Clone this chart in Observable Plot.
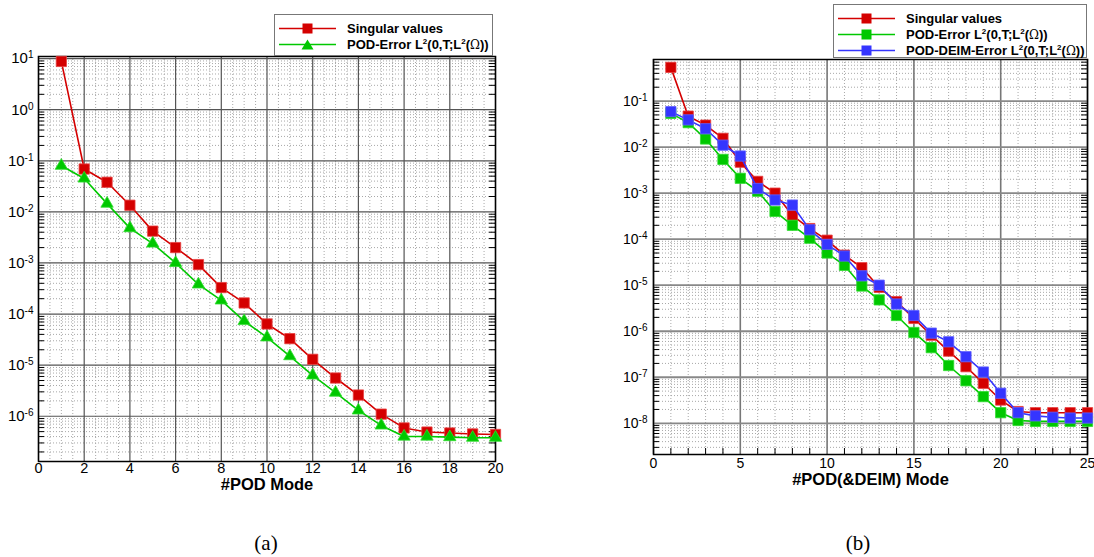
<!DOCTYPE html>
<html>
<head>
<meta charset="utf-8">
<script src="https://cdn.jsdelivr.net/npm/d3@7"></script>
<script src="https://cdn.jsdelivr.net/npm/@observablehq/plot@0.6"></script>
<style>
  body { margin: 0; background: #fff; }
  #wrap { position: relative; width: 1094px; height: 557px; overflow: hidden; font-family: "Liberation Sans", Arial, sans-serif; }
  .panel { position: absolute; top: 0; }
  .legend { position: absolute; background: #fff; border: 1px solid #777; box-sizing: border-box; font-weight: bold; font-size: 13px; color: #000; padding-top: 6px; }
  .legend .row { display: flex; align-items: center; height: 15.7px; white-space: nowrap; }
  .legend svg { display: block; margin-left: 4px; margin-right: 11px; }
  .legend sup { font-size: 8px; vertical-align: 5px; line-height: 0; }
  .legend .om { font-weight: normal; font-family: "DejaVu Serif", serif; font-size: 12px; }
  .cap { position: absolute; font-family: "Liberation Serif", "DejaVu Serif", serif; font-size: 21px; transform: translate(-50%, -50%); }
</style>
</head>
<body>
<div id="wrap"></div>
<script>
// ---------- data (a) ----------
const modesA = [1,2,3,4,5,6,7,8,9,10,11,12,13,14,15,16,17,18,19,20];
const singularA = [8.8, 0.069, 0.038, 0.0135, 0.0042, 0.002, 0.00093, 3.3e-4, 1.65e-4, 6.4e-5, 3.3e-5, 1.3e-5, 5.6e-6, 2.6e-6, 1.1e-6, 5.9e-7, 4.9e-7, 4.7e-7, 4.5e-7, 4.4e-7];
const podErrA = [0.08, 0.045, 0.0145, 0.0048, 0.0024, 0.001, 3.8e-4, 1.85e-4, 7.3e-5, 3.5e-5, 1.5e-5, 6.3e-6, 2.9e-6, 1.3e-6, 6.6e-7, 4.0e-7, 4.0e-7, 3.9e-7, 3.8e-7, 3.8e-7];
const xTicksA = [0,2,4,6,8,10,12,14,16,18,20];
const yTicksA = [1e1,1e0,1e-1,1e-2,1e-3,1e-4,1e-5,1e-6];

// ---------- data (b) ----------
const modesB = [1,2,3,4,5,6,7,8,9,10,11,12,13,14,15,16,17,18,19,20,21,22,23,24,25];
const singularB = [0.54, 0.047, 0.030, 0.0155, 0.0047, 0.0018, 0.001, 3.3e-4, 1.7e-4, 9.5e-5, 4.5e-5, 2.4e-5, 9e-6, 4.4e-6, 1.9e-6, 8.2e-7, 3.7e-7, 1.7e-7, 7.4e-8, 3.2e-8, 1.8e-8, 1.7e-8, 1.7e-8, 1.7e-8, 1.7e-8];
const podErrB = [0.054, 0.034, 0.015, 0.0054, 0.0021, 0.0011, 4.0e-4, 2.0e-4, 1.05e-4, 5.0e-5, 2.7e-5, 9.6e-6, 4.8e-6, 2.2e-6, 9.4e-7, 4.4e-7, 1.8e-7, 8.4e-8, 3.8e-8, 1.7e-8, 1.15e-8, 1.1e-8, 1.1e-8, 1.1e-8, 1.1e-8];
const deimErrB = [0.059, 0.039, 0.025, 0.011, 0.0064, 0.00126, 7.1e-4, 5.5e-4, 1.6e-4, 7.7e-5, 4.3e-5, 1.6e-5, 1.0e-5, 3.9e-6, 2.2e-6, 9.1e-7, 5.9e-7, 2.8e-7, 1.3e-7, 4.5e-8, 1.7e-8, 1.45e-8, 1.35e-8, 1.3e-8, 1.3e-8];
const xTicksB = [0,5,10,15,20,25];
const yTicksB = [1e-1,1e-2,1e-3,1e-4,1e-5,1e-6,1e-7,1e-8];

const labelA = "#POD Mode";
const labelB = "#POD(&DEIM) Mode";
const captions = ["(a)", "(b)"];

const RED = "#d40000", GREEN = "#00c800", BLUE = "#3535ff";

function minorLog(lo, hi) {
  const out = [];
  for (let e = Math.floor(Math.log10(lo)); e <= Math.ceil(Math.log10(hi)); e++)
    for (let m = 2; m <= 9; m++) { const v = m * Math.pow(10, e); if (v > lo && v < hi) out.push(v); }
  return out;
}
function minorLin(lo, hi, step) {
  const out = []; for (let v = lo + step; v < hi - 1e-9; v += step) out.push(+v.toFixed(4)); return out;
}
const expFmt = d => "10^" + Math.round(Math.log10(d));

function supTicks(svg) {
  svg.querySelectorAll('g[aria-label="y-axis tick label"] text').forEach(t => {
    const s = t.textContent; const parts = s.split("^");
    if (parts.length < 2) return;
    t.textContent = parts[0];
    const ts = document.createElementNS("http://www.w3.org/2000/svg", "tspan");
    ts.setAttribute("dy", "-0.5em"); ts.setAttribute("font-size", "10"); ts.textContent = parts[1];
    t.appendChild(ts);
  });
}

const wrap = document.getElementById("wrap");

// ---------- panel (a) ----------
{
  const W = 520, H = 500, mL = 38, mR = 25, mT = 56, mB = 39;
  const fw = W - mL - mR;
  const yDom = [1.3e-7, 11];
  const data = modesA.map((m, i) => ({m, sv: singularA[i], pod: podErrA[i]}));
  const minY = minorLog(yDom[0], yDom[1]);
  const minX = minorLin(0, 20, 0.5).filter(v => v % 2 !== 0);
  const svg = Plot.plot({
    width: W, height: H, marginLeft: mL, marginRight: mR, marginTop: mT, marginBottom: mB,
    x: {domain: [0, 20], label: null},
    y: {type: "log", domain: yDom, label: null},
    style: {fontFamily: "'Liberation Sans', Arial, sans-serif", fontSize: "14px", color: "#000", background: "transparent"},
    marks: [
      Plot.ruleX(minX, {stroke: "#a8a8a8", strokeDasharray: "1,2"}),
      Plot.ruleY(minY, {stroke: "#a8a8a8", strokeDasharray: "1,2"}),
      Plot.ruleX(xTicksA, {stroke: "#555", strokeWidth: 1.2}),
      Plot.ruleY(yTicksA, {stroke: "#555", strokeWidth: 1.2}),
      Plot.tickY(minY, {insetRight: fw - 6, stroke: "#000"}),
      Plot.tickY(minY, {insetLeft: fw - 6, stroke: "#000"}),
      Plot.axisX({ticks: xTicksA, tickSize: 0, tickPadding: 1, fontSize: 14.5, label: null, tickFormat: d => String(d)}),
      Plot.axisY({ticks: yTicksA, tickSize: 0, tickPadding: 5, fontSize: 15, label: null, tickFormat: expFmt}),
      Plot.frame({stroke: "#000", strokeWidth: 1.5}),
      Plot.line(data, {x: "m", y: "sv", stroke: RED, strokeWidth: 1.6}),
      Plot.dot(data, {x: "m", y: "sv", symbol: "square", r: 5.8, fill: RED, stroke: "#e84040", strokeWidth: 0.8}),
      Plot.line(data, {x: "m", y: "pod", stroke: GREEN, strokeWidth: 1.6}),
      Plot.dot(data, {x: "m", y: "pod", symbol: "triangle", r: 4.6, fill: GREEN, stroke: "#30dd30", strokeWidth: 0.8}),
      Plot.text([labelA], {text: d => d, frameAnchor: "bottom", dy: 28, fontWeight: "bold", fontSize: 16.5})
    ]
  });
  svg.classList.add("panel"); svg.style.left = "0px";
  supTicks(svg);
  wrap.appendChild(svg);
}

// ---------- panel (b) ----------
{
  const W = 534, H = 500, mL = 93, mR = 7, mT = 59, mB = 46;
  const fw = W - mL - mR, fh = H - mT - mB;
  const yDom = [2.1e-9, 0.8];
  const data = modesB.map((m, i) => ({m, sv: singularB[i], pod: podErrB[i], deim: deimErrB[i]}));
  const minY = minorLog(yDom[0], yDom[1]);
  const minX = minorLin(0, 25, 1).filter(v => v % 5 !== 0);
  const svg = Plot.plot({
    width: W, height: H, marginLeft: mL, marginRight: mR, marginTop: mT, marginBottom: mB,
    x: {domain: [0, 25], label: null},
    y: {type: "log", domain: yDom, label: null},
    style: {fontFamily: "'Liberation Sans', Arial, sans-serif", fontSize: "14px", color: "#000", background: "transparent"},
    marks: [
      Plot.ruleX(minX, {stroke: "#a8a8a8", strokeDasharray: "1,2"}),
      Plot.ruleY(minY, {stroke: "#a8a8a8", strokeDasharray: "1,2"}),
      Plot.ruleX(xTicksB, {stroke: "#777", strokeWidth: 1.6}),
      Plot.ruleY(yTicksB, {stroke: "#888", strokeWidth: 1.8}),
      Plot.tickY(minY, {insetRight: fw - 6, stroke: "#000"}),
      Plot.tickY(minY, {insetLeft: fw - 6, stroke: "#000"}),
      Plot.tickX(minX, {insetTop: fh - 6, stroke: "#000"}),
      Plot.axisX({ticks: xTicksB, tickSize: 0, tickPadding: 4, fontSize: 14, label: null, tickFormat: d => String(d)}),
      Plot.axisY({ticks: yTicksB, tickSize: 0, tickPadding: 6, fontSize: 14, label: null, tickFormat: expFmt}),
      Plot.frame({stroke: "#000", strokeWidth: 1.5}),
      Plot.line(data, {x: "m", y: "sv", stroke: RED, strokeWidth: 1.6}),
      Plot.dot(data, {x: "m", y: "sv", symbol: "square", r: 5.8, fill: RED, stroke: "#e84040", strokeWidth: 0.8}),
      Plot.line(data, {x: "m", y: "pod", stroke: GREEN, strokeWidth: 1.6}),
      Plot.dot(data, {x: "m", y: "pod", symbol: "square", r: 5.8, fill: GREEN, stroke: "#30dd30", strokeWidth: 0.8}),
      Plot.line(data, {x: "m", y: "deim", stroke: BLUE, strokeWidth: 1.6}),
      Plot.dot(data, {x: "m", y: "deim", symbol: "square", r: 5.8, fill: BLUE, stroke: "#6060ff", strokeWidth: 0.8}),
      Plot.text([labelB], {text: d => d, frameAnchor: "bottom", dy: 30, fontWeight: "bold", fontSize: 16.5})
    ]
  });
  svg.classList.add("panel"); svg.style.left = "560px";
  supTicks(svg);
  wrap.appendChild(svg);
}

// ---------- legends ----------
const L2 = 'L<sup>2</sup>(0,T;L<sup>2</sup>(<span class="om">Ω</span>))';
function legend(left, top, width, height, items) {
  const div = document.createElement("div");
  div.className = "legend";
  Object.assign(div.style, {left: left + "px", top: top + "px", width: width + "px", height: height + "px"});
  for (const it of items) {
    const row = document.createElement("div"); row.className = "row";
    const mk = it.symbol === "triangle"
      ? `<polygon points="28.5,1.5 34.5,11.5 22.5,11.5" fill="${it.color}"/>`
      : `<rect x="23.5" y="1.5" width="10" height="10" fill="${it.color}"/>`;
    row.innerHTML = `<svg width="57" height="13"><line x1="0" y1="6.5" x2="57" y2="6.5" stroke="${it.color}" stroke-width="1.6"/>${mk}</svg><span>${it.label}</span>`;
    div.appendChild(row);
  }
  wrap.appendChild(div);
}
legend(274, 14, 219, 42, [
  {label: "Singular values", color: RED, symbol: "square"},
  {label: "POD-Error " + L2, color: GREEN, symbol: "triangle"}
]);
legend(833, 4, 254, 54, [
  {label: "Singular values", color: RED, symbol: "square"},
  {label: "POD-Error " + L2, color: GREEN, symbol: "square"},
  {label: "POD-DEIM-Error " + L2, color: BLUE, symbol: "square"}
]);

// ---------- captions ----------
[[266, 543], [858, 543]].forEach((p, i) => {
  const c = document.createElement("div"); c.className = "cap";
  c.style.left = p[0] + "px"; c.style.top = p[1] + "px"; c.textContent = captions[i];
  wrap.appendChild(c);
});
</script>
</body>
</html>
